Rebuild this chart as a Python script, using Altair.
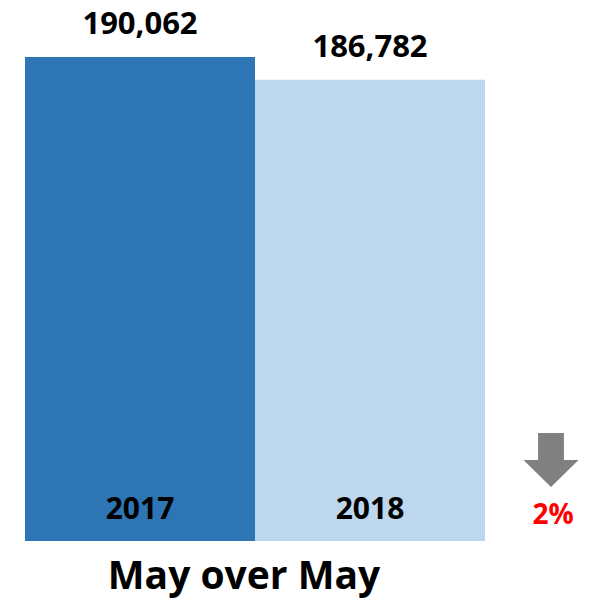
import altair as alt
import pandas as pd

years = ["2017", "2018"]
values = [190062, 186782]
bar_colors = ["#2E75B6", "#BDD7EE"]
axis_min = 120000
axis_max = 190062
title_text = "May over May"

change_pct = round(abs(values[1] - values[0]) / values[0] * 100)
pct_label = f"{change_pct}%"

df = pd.DataFrame({"year": years, "value": values})
ann = pd.DataFrame({"year": [years[1]], "label": [pct_label]})

FONT = "Open Sans"

x = alt.X("year:N", axis=None, sort=years,
          scale=alt.Scale(paddingInner=0, paddingOuter=0))
y_scale = alt.Scale(domain=[axis_min, axis_max], zero=False, nice=False)

base = alt.Chart(df).encode(x=x)

bars = base.mark_bar(strokeWidth=0).encode(
    y=alt.Y("value:Q", axis=None, scale=y_scale),
    y2=alt.datum(axis_min),
    color=alt.Color("year:N", scale=alt.Scale(domain=years, range=bar_colors), legend=None),
)

value_labels = base.mark_text(
    font=FONT, fontSize=31, fontWeight="bold", baseline="alphabetic", dy=-23, color="black"
).encode(
    y=alt.Y("value:Q", axis=None, scale=y_scale),
    text=alt.Text("value:Q", format=","),
)

year_labels = base.mark_text(
    font=FONT, fontSize=30, fontWeight="bold", baseline="alphabetic", dy=-22, color="black"
).encode(
    y=alt.datum(axis_min, scale=y_scale),
    text="year:N",
)

arrow_path = "M-0.47,-0.98 L0.47,-0.98 L0.47,0 L1,0 L0,0.98 L-1,0 L-0.47,0 Z"
arrow = alt.Chart(ann).mark_point(
    shape=arrow_path, size=3025, filled=True, color="#808080", opacity=1,
    strokeWidth=0, xOffset=181
).encode(x=alt.X("year:N", axis=None, sort=years,
                 scale=alt.Scale(paddingInner=0, paddingOuter=0)),
         y=alt.value(403))

pct_text = alt.Chart(ann).mark_text(
    font=FONT, fontSize=28, fontWeight="bold", color="#FF0000",
    baseline="alphabetic", xOffset=183
).encode(x=alt.X("year:N", axis=None, sort=years,
                 scale=alt.Scale(paddingInner=0, paddingOuter=0)),
         y=alt.value(467), text="label:N")

title = alt.Chart(pd.DataFrame({"t": [title_text]})).mark_text(
    font=FONT, fontSize=39, fontWeight="bold", color="black", baseline="alphabetic"
).encode(x=alt.value(219), y=alt.value(532), text="t:N")

chart = alt.layer(bars, value_labels, year_labels, arrow, pct_text, title).properties(
    width=460, height=484,
    padding={"left": 25, "top": 57, "right": 113, "bottom": 62},
    autosize=alt.AutoSizeParams(type="none"),
    background="white",
).configure_view(stroke=None)

chart.save("out.html", embed_options={"renderer": "svg", "actions": False})
